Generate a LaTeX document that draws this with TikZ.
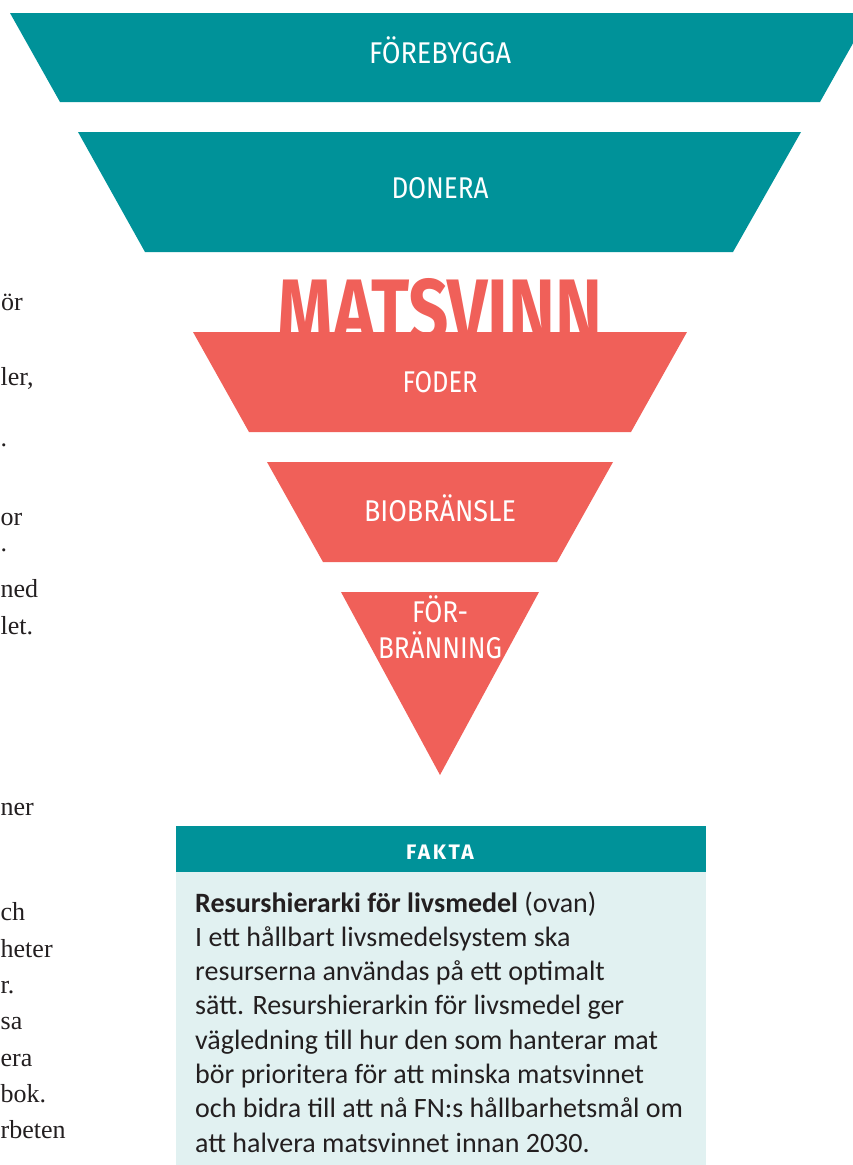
\documentclass[tikz,border=0pt]{standalone}
\usepackage{fontspec}
\usepackage{graphicx}
\setmainfont{Liberation Serif}
\newfontfamily\labelfont{Fira Sans}
\newfontfamily\faktafont[LetterSpace=12]{Fira Sans}
\newfontfamily\bodyfont{Carlito}
\definecolor{tealc}{RGB}{0,146,153}
\definecolor{redc}{RGB}{240,96,89}
\definecolor{boxbg}{RGB}{225,241,241}
\definecolor{inkc}{RGB}{35,31,32}
\begin{document}
\begin{tikzpicture}[x=1pt,y=-1pt]
\useasboundingbox (0,0) rectangle (853,1165);
\tikzset{
  teallayer/.style={fill=tealc},
  redlayer/.style={fill=redc},
  lbl/.style={text=white, font=\labelfont\fontsize{30}{30}\selectfont, inner sep=0, anchor=base},
  frag/.style={anchor=base west, text=inkc, font=\fontsize{26}{26}\selectfont, inner sep=0},
  bodyline/.style={anchor=base west, text=inkc, font=\bodyfont\fontsize{28}{28}\selectfont, inner sep=0}
}
% left page fragments
\node[frag] (f1) at (1,310) {ör};
\node[frag] (f3) at (0.5,385) {ler,};
\node[frag] (f4) at (0.5,446) {.};
\node[frag] (f5) at (0.5,525) {or};
\node[frag] (f6) at (0.5,551) {.};
\node[frag] (f7) at (0.5,597) {ned};
\node[frag] (f8) at (0.5,634) {let.};
\node[frag] (f9) at (0.5,815) {ner};
\node[frag] (f10) at (0.5,920) {ch};
\node[frag] (f11) at (0.5,957) {heter};
\node[frag] (f12) at (0.5,993) {r.};
\node[frag] (f13) at (0.5,1029) {sa};
\node[frag] (f14) at (0.5,1066) {era};
\node[frag] (f15) at (0.5,1102) {bok.};
\node[frag] (f16) at (0.5,1138) {rbeten};

% teal layers
\fill[teallayer] (10,13) -- (870,13) -- (820,102) -- (60,102) -- cycle;
\fill[teallayer] (78,132) -- (801,132) -- (733,252) -- (145,252) -- cycle;
\node[lbl] (lfore) at (440,63) {\resizebox{142pt}{\height}{FÖREBYGGA}};
\node[lbl] (ldon) at (440,198) {\resizebox{97pt}{\height}{DONERA}};

% title
\node[text=redc, inner sep=0, anchor=north] (title) at (440,278)
  {\resizebox{324pt}{64pt}{\labelfont\bfseries MATSVINN}};

% red layers
\fill[redlayer] (193,332) -- (687,332) -- (631,432) -- (249,432) -- cycle;
\fill[redlayer] (267,462) -- (613,462) -- (557,562) -- (323,562) -- cycle;
\fill[redlayer] (341,592) -- (539,592) -- (440,775) -- cycle;
\node[lbl] (lfod) at (440,392) {\resizebox{75pt}{\height}{FODER}};
\node[lbl] (lbio) at (440,521) {\resizebox{152pt}{\height}{BIOBRÄNSLE}};
\node[lbl] (lfor) at (440,622) {\resizebox{56pt}{\height}{FÖR-}};
\node[lbl] (lbra) at (440,658) {\resizebox{124pt}{\height}{BRÄNNING}};

% fakta box
\fill[fill=tealc] (176,826) rectangle (706,872);
\fill[fill=boxbg] (176,872) rectangle (706,1165);
\node[text=white, inner sep=0, anchor=base, font=\faktafont\bfseries\fontsize{21}{21}\selectfont] (fakta) at (440,859) {FAKTA};

\node[bodyline] (b1) at (195,912) {\textbf{Resurshierarki för livsmedel} (ovan)};
\node[bodyline] (b2) at (195,946.3) {I ett hållbart livsmedelsystem ska};
\node[bodyline] (b3) at (195,980.6) {resurserna användas på ett optimalt};
\node[bodyline] (b4) at (195,1014.9) {sätt. Resurshierarkin för livsmedel ger};
\node[bodyline] (b5) at (195,1049.2) {vägledning till hur den som hanterar mat};
\node[bodyline] (b6) at (195,1083.5) {bör prioritera för att minska matsvinnet};
\node[bodyline] (b7) at (195,1117.8) {och bidra till att nå FN:s hållbarhetsmål om};
\node[bodyline] (b8) at (195,1152.1) {att halvera matsvinnet innan 2030.};
\end{tikzpicture}
\end{document}
